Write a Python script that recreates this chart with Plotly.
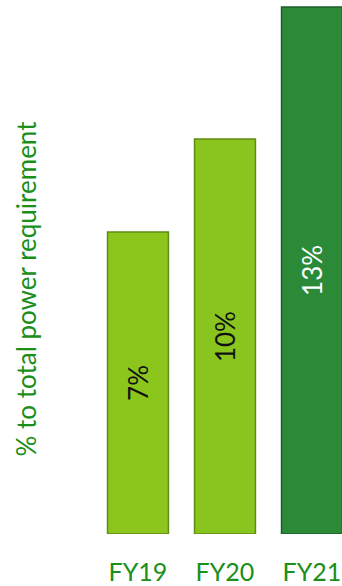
import plotly.graph_objects as go

categories = ["FY19", "FY20", "FY21"]
values = [7.45, 9.74, 13.0]
labels = ["7%", "10%", "13%"]
bar_colors = ["#8CC61C", "#8AC41E", "#2B8A38"]
line_colors = ["#5F8C12", "#5F8C12", "#1C5E2A"]
text_colors = ["#111111", "#111111", "#FFFFFF"]
y_title = "% to total power requirement"

GREEN = "#1A8F1A"
FONT = "Lato"

fig = go.Figure()
fig.add_trace(go.Bar(
    x=categories,
    y=values,
    text=labels,
    textposition="inside",
    insidetextanchor="middle",
    textangle=-90,
    textfont=dict(family=FONT, size=26, color=text_colors),
    marker=dict(color=bar_colors, line=dict(color=line_colors, width=1.5)),
    hoverinfo="skip",
))

fig.update_layout(
    width=342,
    height=586,
    margin=dict(l=40, r=0, t=0, b=52),
    paper_bgcolor="white",
    plot_bgcolor="white",
    bargap=0.30,
    showlegend=False,
    annotations=[dict(
        text=y_title, xref="paper", yref="paper", x=-0.046, y=0.46,
        xanchor="center", yanchor="middle", textangle=-90, showarrow=False,
        font=dict(family=FONT, size=26, color=GREEN),
    )],
)
fig.update_xaxes(
    range=[-1.126, 2.345],
    showgrid=False,
    zeroline=False,
    showline=False,
    ticks="outside",
    ticklen=16,
    tickcolor="rgba(0,0,0,0)",
    tickfont=dict(family=FONT, size=25, color=GREEN),
    fixedrange=True,
)
fig.update_yaxes(
    range=[0, 13.17],
    showgrid=False,
    zeroline=False,
    showline=False,
    showticklabels=False,
    fixedrange=True,
)

fig.write_html("out.html", config={"displayModeBar": False},
               post_script="document.body.style.margin='0';")
